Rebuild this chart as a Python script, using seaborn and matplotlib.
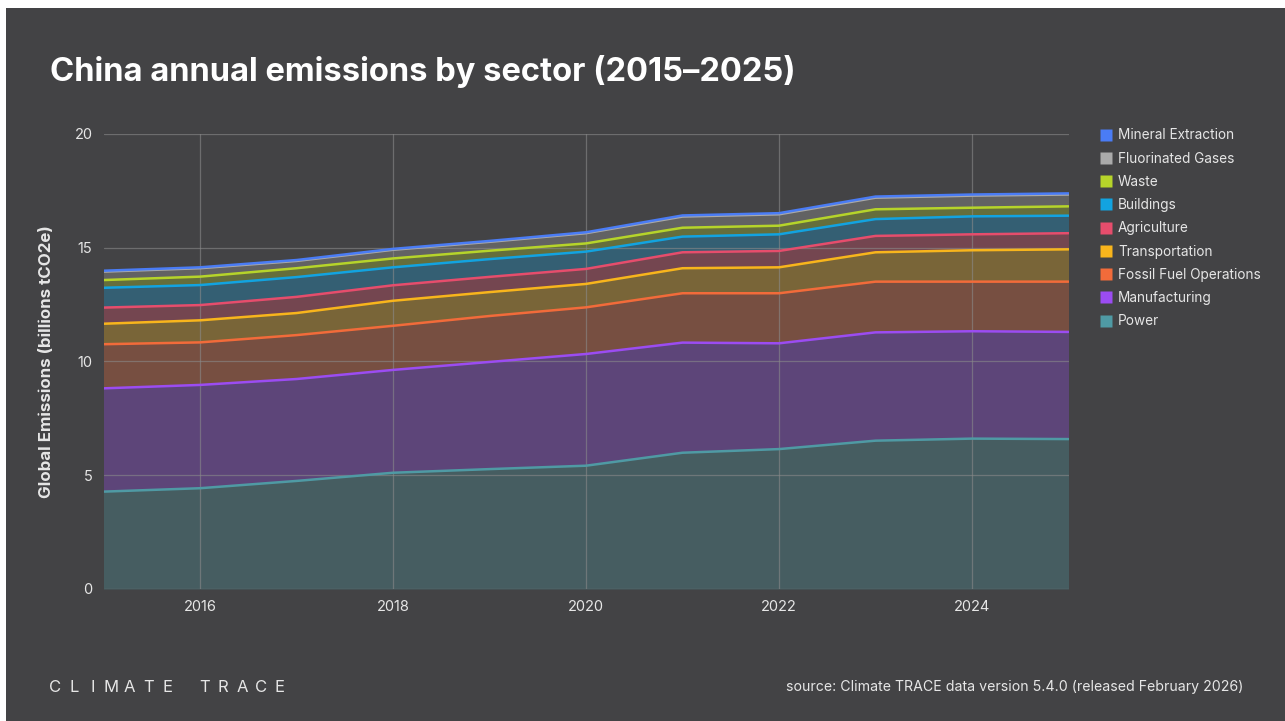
import numpy as np
import pandas as pd
import seaborn as sns
import matplotlib.pyplot as plt
from matplotlib.lines import Line2D
from matplotlib.patches import Rectangle

# values (billions tCO2e), bottom of stack first
years = [2015, 2016, 2017, 2018, 2019, 2020, 2021, 2022, 2023, 2024, 2025]
power = [4.28, 4.43, 4.75, 5.11, 5.27, 5.42, 5.99, 6.15, 6.52, 6.61, 6.59]
manufacturing = [4.54, 4.54, 4.48, 4.52, 4.71, 4.91, 4.84, 4.65, 4.76, 4.72, 4.71]
fossil_fuel = [1.94, 1.87, 1.93, 1.94, 2.02, 2.05, 2.17, 2.20, 2.23, 2.18, 2.21]
transportation = [0.90, 0.97, 0.97, 1.10, 1.05, 1.03, 1.10, 1.14, 1.29, 1.38, 1.42]
agriculture = [0.71, 0.67, 0.71, 0.68, 0.67, 0.66, 0.70, 0.72, 0.72, 0.70, 0.71]
buildings = [0.87, 0.88, 0.87, 0.79, 0.78, 0.76, 0.69, 0.73, 0.74, 0.79, 0.77]
waste = [0.34, 0.37, 0.39, 0.39, 0.37, 0.36, 0.39, 0.38, 0.43, 0.38, 0.41]
fluorinated = [0.37, 0.37, 0.32, 0.38, 0.39, 0.45, 0.49, 0.50, 0.51, 0.53, 0.52]
mineral = [0.04, 0.04, 0.04, 0.04, 0.04, 0.04, 0.05, 0.05, 0.05, 0.05, 0.05]

sectors = ["Power", "Manufacturing", "Fossil Fuel Operations", "Transportation",
           "Agriculture", "Buildings", "Waste", "Fluorinated Gases", "Mineral Extraction"]
series = [power, manufacturing, fossil_fuel, transportation, agriculture,
          buildings, waste, fluorinated, mineral]
colors = ["#4f9aa4", "#9b4cf2", "#f26b3a", "#f8b51c", "#e64d6c",
          "#12a3e0", "#b6d42a", "#aaaaaa", "#4a7cf5"]

BG = "#434345"
TXT = "#e6e6e6"

# cumulative stack in long format for seaborn
cum = np.cumsum(np.array(series), axis=0)
rows = []
for i, s in enumerate(sectors):
    for j, y in enumerate(years):
        rows.append({"year": y, "sector": s, "top": cum[i, j]})
df = pd.DataFrame(rows)

sns.set_theme(style="dark")
plt.rcParams["font.family"] = ["Inter", "DejaVu Sans"]

fig = plt.figure(figsize=(12.85, 7.21), dpi=100)
fig.patch.set_facecolor("white")
fig.patches.append(Rectangle((6 / 1285, 0), 1, 1 - 8 / 721, transform=fig.transFigure,
                             facecolor=BG, edgecolor="none", zorder=-10))

ax = fig.add_axes([103.5 / 1285, 1 - 589 / 721, 965 / 1285, 455 / 721])
ax.set_facecolor(BG)

base = np.zeros(len(years))
for i, s in enumerate(sectors):
    ax.fill_between(years, base, cum[i], color=colors[i], alpha=0.3, linewidth=0, zorder=2)
    base = cum[i]

sns.lineplot(data=df, x="year", y="top", hue="sector", palette=dict(zip(sectors, colors)),
             linewidth=1.8, legend=False, ax=ax, zorder=3)

ax.set_xlim(2015, 2025)
ax.set_ylim(0, 20)
ax.set_xticks([2016, 2018, 2020, 2022, 2024])
ax.set_yticks([0, 5, 10, 15, 20])
ax.grid(True, color="#8a8a8a", linewidth=0.9, alpha=0.6, zorder=1)
ax.set_axisbelow(False)
for sp in ax.spines.values():
    sp.set_visible(False)
ax.tick_params(colors=TXT, labelsize=10.5, length=0, pad=8)
ax.set_xlabel("")
ax.set_ylabel("Global Emissions (billions tCO2e)", color=TXT, fontsize=12.2,
              fontweight="bold", labelpad=15)

handles = [Line2D([0], [0], marker="s", linestyle="none", markersize=8,
                  markerfacecolor=colors[i], markeredgecolor="none")
           for i in range(len(sectors) - 1, -1, -1)]
labels = sectors[::-1]
leg = fig.legend(handles, labels, loc="upper left", bbox_to_anchor=(1095 / 1285, 1 - 123 / 721),
                 frameon=False, fontsize=9.8, labelcolor=TXT, handlelength=0.8,
                 handletextpad=0.5, labelspacing=0.68, borderaxespad=0)

fig.text(50 / 1285, 1 - 71 / 721, "China annual emissions by sector (2015\u20132025)",
         color="white", fontsize=23.5, fontweight="bold", va="center", ha="left")

# spaced-out wordmark
for k, ch in enumerate("CLIMATE TRACE"):
    fig.text((55 + k * 18.7) / 1285, 1 - 687 / 721, ch, color=TXT,
             fontsize=12, va="center", ha="center")
fig.text(1243 / 1285, 1 - 687 / 721,
         "source: Climate TRACE data version 5.4.0 (released February 2026)",
         color=TXT, fontsize=10.2, va="center", ha="right")

fig.savefig("out.png", dpi=100, facecolor=fig.get_facecolor())
